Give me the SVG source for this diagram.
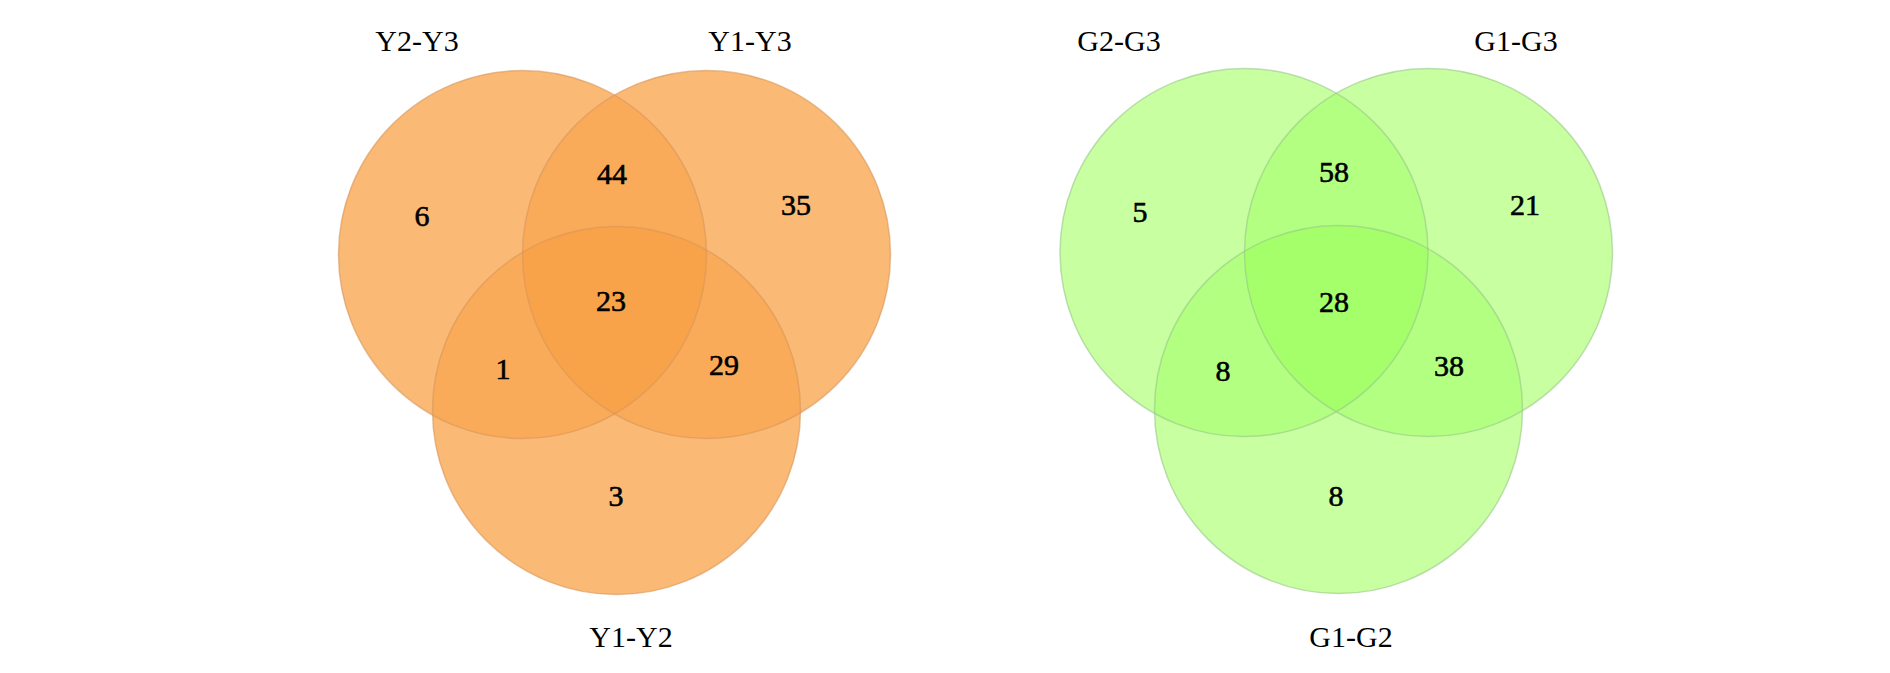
<svg xmlns="http://www.w3.org/2000/svg" width="1890" height="673" viewBox="0 0 1890 673">
<style>
.o1{fill:#FABA76}.o2{fill:#F9AB59}.o3{fill:#F8A34A}
.g1{fill:#C8FFA0}.g2{fill:#B2FF82}.g3{fill:#A4FF6A}
.os{fill:none;stroke:#D8965A;stroke-opacity:0.6;stroke-width:1.5}
.gs{fill:none;stroke:#98C888;stroke-opacity:0.6;stroke-width:1.5}
.lab{font-family:"Liberation Serif","Times New Roman",serif;font-size:30px;fill:#000;text-anchor:middle}
.num{font-family:"Liberation Serif","Times New Roman",serif;font-size:30px;fill:#000;stroke:#000;stroke-width:0.6;text-anchor:middle}
</style>
<defs>
<circle id="oA" cx="522.5" cy="254.5" r="184"/>
<circle id="oB" cx="706.5" cy="254.5" r="184"/>
<circle id="oC" cx="616.5" cy="410.5" r="184"/>
<circle id="gA" cx="1244" cy="252.5" r="184"/>
<circle id="gB" cx="1428.5" cy="252.5" r="184"/>
<circle id="gC" cx="1338.5" cy="409.5" r="184"/>
<clipPath id="coA"><use href="#oA"/></clipPath>
<clipPath id="coB"><use href="#oB"/></clipPath>
<clipPath id="cgA"><use href="#gA"/></clipPath>
<clipPath id="cgB"><use href="#gB"/></clipPath>
</defs>
<rect width="1890" height="673" fill="#fff"/>
<g id="venn-Y">
<g id="Y2-Y3"><use href="#oA" class="o1"/></g>
<g id="Y1-Y3"><use href="#oB" class="o1"/></g>
<g id="Y1-Y2"><use href="#oC" class="o1"/></g>
<g id="Y-overlaps">
<use href="#oB" class="o2" clip-path="url(#coA)"/>
<use href="#oC" class="o2" clip-path="url(#coA)"/>
<use href="#oC" class="o2" clip-path="url(#coB)"/>
<g clip-path="url(#coB)"><use href="#oC" class="o3" clip-path="url(#coA)"/></g>
</g>
<use href="#oA" class="os"/>
<use href="#oB" class="os"/>
<use href="#oC" class="os"/>
<text class="lab" x="417" y="51">Y2-Y3</text>
<text class="lab" x="750" y="51">Y1-Y3</text>
<text class="lab" x="631" y="647">Y1-Y2</text>
<text class="num" x="422" y="226">6</text>
<text class="num" x="612" y="184">44</text>
<text class="num" x="796" y="215">35</text>
<text class="num" x="611" y="311">23</text>
<text class="num" x="503" y="379">1</text>
<text class="num" x="724" y="375">29</text>
<text class="num" x="616" y="506">3</text>
</g>
<g id="venn-G">
<g id="G2-G3"><use href="#gA" class="g1"/></g>
<g id="G1-G3"><use href="#gB" class="g1"/></g>
<g id="G1-G2"><use href="#gC" class="g1"/></g>
<g id="G-overlaps">
<use href="#gB" class="g2" clip-path="url(#cgA)"/>
<use href="#gC" class="g2" clip-path="url(#cgA)"/>
<use href="#gC" class="g2" clip-path="url(#cgB)"/>
<g clip-path="url(#cgB)"><use href="#gC" class="g3" clip-path="url(#cgA)"/></g>
</g>
<use href="#gA" class="gs"/>
<use href="#gB" class="gs"/>
<use href="#gC" class="gs"/>
<text class="lab" x="1119" y="51">G2-G3</text>
<text class="lab" x="1516" y="51">G1-G3</text>
<text class="lab" x="1351" y="647">G1-G2</text>
<text class="num" x="1140" y="222">5</text>
<text class="num" x="1334" y="182">58</text>
<text class="num" x="1525" y="215">21</text>
<text class="num" x="1334" y="312">28</text>
<text class="num" x="1223" y="381">8</text>
<text class="num" x="1449" y="376">38</text>
<text class="num" x="1336" y="506">8</text>
</g>
</svg>
